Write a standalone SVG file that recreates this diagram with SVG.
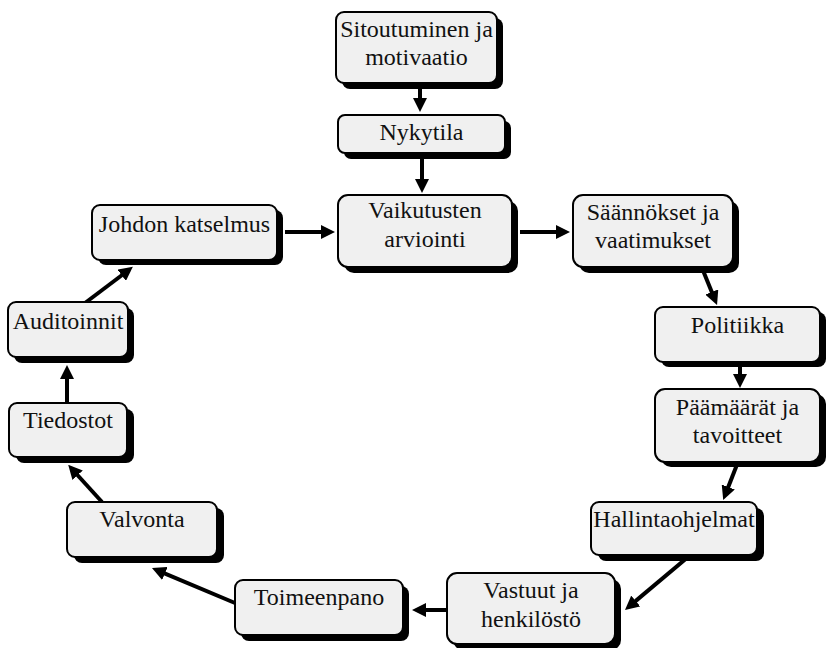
<svg xmlns="http://www.w3.org/2000/svg" width="826" height="648" viewBox="0 0 826 648">
  <defs>
    <marker id="head" markerUnits="userSpaceOnUse" markerWidth="14" markerHeight="14" refX="3" refY="7" orient="auto">
      <path d="M0,0 L14,7 L0,14 z" fill="#000"/>
    </marker>
  </defs>
  <style>
    .shadow { fill: #000; }
    .box { fill: #f0f0f0; stroke: #000; stroke-width: 2; }
    .label { font-family: "Liberation Serif", serif; font-size: 24px; fill: #111; text-anchor: middle; }
    .conn line { stroke: #000; stroke-width: 4; marker-end: url(#head); }
  </style>

  <!-- connectors -->
  <g id="connectors" class="conn">
    <line x1="420" y1="86" x2="420" y2="101"/>
    <line x1="422" y1="153" x2="422" y2="182"/>
    <line x1="520" y1="232" x2="559" y2="232"/>
    <line x1="702" y1="268" x2="712.9" y2="294.8"/>
    <line x1="740" y1="366" x2="740" y2="377"/>
    <line x1="738" y1="462" x2="727.2" y2="489.8"/>
    <line x1="688" y1="557" x2="633.4" y2="602.9"/>
    <line x1="447" y1="610" x2="423" y2="610"/>
    <line x1="235" y1="603" x2="162.1" y2="572.3"/>
    <line x1="102" y1="502" x2="75.6" y2="473"/>
    <line x1="67" y1="403" x2="67" y2="376"/>
    <line x1="85" y1="303" x2="124.1" y2="273.5"/>
    <line x1="285" y1="232" x2="324" y2="232"/>
  </g>

  <g id="n-sitoutuminen">
    <rect class="shadow" x="342" y="18" width="161" height="71" rx="8"/>
    <rect class="box" x="336" y="12" width="161" height="71" rx="8"/>
    <text class="label" x="416.5" y="37">Sitoutuminen ja</text>
    <text class="label" x="416.5" y="65">motivaatio</text>
  </g>

  <g id="n-nykytila">
    <rect class="shadow" x="344" y="121" width="167" height="38" rx="7"/>
    <rect class="box" x="338" y="115" width="167" height="38" rx="7"/>
    <text class="label" x="421.5" y="140">Nykytila</text>
  </g>

  <g id="n-vaikutusten">
    <rect class="shadow" x="344" y="201" width="174" height="72" rx="10"/>
    <rect class="box" x="338" y="195" width="174" height="72" rx="10"/>
    <text class="label" x="425" y="218">Vaikutusten</text>
    <text class="label" x="425" y="247">arviointi</text>
  </g>

  <g id="n-saannokset">
    <rect class="shadow" x="579" y="201" width="160" height="72" rx="10"/>
    <rect class="box" x="573" y="195" width="160" height="72" rx="10"/>
    <text class="label" x="653" y="220">Säännökset ja</text>
    <text class="label" x="653" y="248">vaatimukset</text>
  </g>

  <g id="n-politiikka">
    <rect class="shadow" x="661" y="312" width="165" height="55" rx="8"/>
    <rect class="box" x="655" y="307" width="165" height="55" rx="8"/>
    <text class="label" x="737.5" y="333">Politiikka</text>
  </g>

  <g id="n-paamaarat">
    <rect class="shadow" x="661" y="394" width="165" height="73" rx="10"/>
    <rect class="box" x="655" y="389" width="165" height="73" rx="10"/>
    <text class="label" x="737.5" y="415">Päämäärät ja</text>
    <text class="label" x="737.5" y="443">tavoitteet</text>
  </g>

  <g id="n-hallintaohjelmat">
    <rect class="shadow" x="598" y="508" width="166" height="53" rx="8"/>
    <rect class="box" x="591" y="502" width="166" height="53" rx="8"/>
    <text class="label" x="674" y="527">Hallintaohjelmat</text>
  </g>

  <g id="n-vastuut">
    <rect class="shadow" x="453" y="579" width="168" height="71" rx="10"/>
    <rect class="box" x="447" y="573" width="168" height="71" rx="10"/>
    <text class="label" x="531" y="598">Vastuut ja</text>
    <text class="label" x="531" y="627">henkilöstö</text>
  </g>

  <g id="n-toimeenpano">
    <rect class="shadow" x="241" y="586" width="168" height="55" rx="8"/>
    <rect class="box" x="235" y="580" width="168" height="55" rx="8"/>
    <text class="label" x="319" y="605">Toimeenpano</text>
  </g>

  <g id="n-valvonta">
    <rect class="shadow" x="74" y="508" width="150" height="55" rx="8"/>
    <rect class="box" x="67" y="502" width="150" height="55" rx="8"/>
    <text class="label" x="142" y="527">Valvonta</text>
  </g>

  <g id="n-tiedostot">
    <rect class="shadow" x="16" y="409" width="118" height="54" rx="8"/>
    <rect class="box" x="9" y="403" width="118" height="54" rx="8"/>
    <text class="label" x="68" y="428">Tiedostot</text>
  </g>

  <g id="n-auditoinnit">
    <rect class="shadow" x="14" y="308" width="120" height="55" rx="8"/>
    <rect class="box" x="8" y="302" width="120" height="55" rx="8"/>
    <text class="label" x="68" y="329">Auditoinnit</text>
  </g>

  <g id="n-johdon">
    <rect class="shadow" x="98" y="210" width="185" height="55" rx="8"/>
    <rect class="box" x="92" y="205" width="185" height="55" rx="8"/>
    <text class="label" x="184.5" y="232">Johdon katselmus</text>
  </g>
</svg>
